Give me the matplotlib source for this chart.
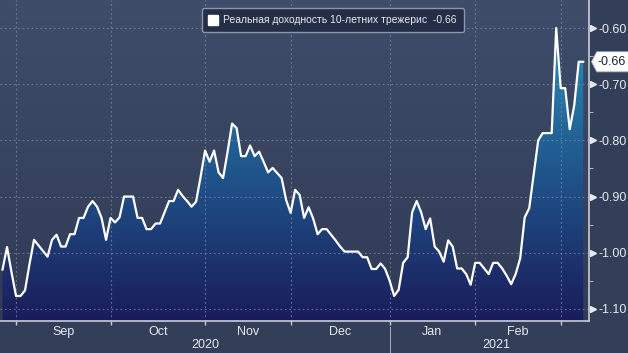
import numpy as np
import pandas as pd
import matplotlib.pyplot as plt
import matplotlib.transforms as mtransforms
from matplotlib.colors import LinearSegmentedColormap
from matplotlib.patches import Polygon
from matplotlib.lines import Line2D

plt.rcParams["font.family"] = ["Liberation Sans", "DejaVu Sans"]

# bond market trading days (US holidays removed)
holidays = ["2020-09-07", "2020-10-12", "2020-11-11", "2020-11-26", "2020-12-25",
            "2021-01-01", "2021-01-18", "2021-02-15"]
dates = pd.bdate_range("2020-08-27", "2021-03-08", freq="C", holidays=holidays)

real_yield = [
    -1.03, -0.99, -1.035, -1.077, -1.077, -1.067, -1.02, -0.977, -0.987, -0.997,
    -1.007, -0.977, -0.968, -0.989, -0.989, -0.967, -0.967, -0.938, -0.938, -0.918,
    -0.908, -0.918, -0.938, -0.977, -0.938, -0.946, -0.937, -0.90, -0.90, -0.90,
    -0.938, -0.938, -0.958, -0.958, -0.948, -0.948, -0.928, -0.908, -0.908, -0.888,
    -0.899, -0.908, -0.918, -0.909, -0.865, -0.818, -0.838, -0.818, -0.857, -0.867,
    -0.82, -0.770, -0.778, -0.828, -0.828, -0.809, -0.828, -0.82, -0.838, -0.857,
    -0.849, -0.858, -0.867, -0.906, -0.929, -0.888, -0.897, -0.938, -0.919, -0.939,
    -0.967, -0.958, -0.958, -0.968, -0.978, -0.989, -0.998, -0.998, -0.998, -0.998,
    -1.008, -1.008, -1.029, -1.029, -1.019, -1.029, -1.05, -1.077, -1.066, -1.018,
    -1.008, -0.928, -0.908, -0.928, -0.958, -0.939, -0.989, -0.998, -1.016, -0.978,
    -0.989, -1.028, -1.028, -1.038, -1.057, -1.018, -1.018, -1.028, -1.038, -1.018,
    -1.018, -1.028, -1.041, -1.056, -1.038, -1.010, -0.937, -0.921, -0.86, -0.80,
    -0.787, -0.787, -0.787, -0.60, -0.707, -0.707, -0.78, -0.738, -0.66, -0.66,
]
last_value = -0.66
series_label = "Реальная доходность 10-летних трежерис  -0.66"
y_major = [-1.10, -1.00, -0.90, -0.80, -0.70, -0.60]
y_minor = [-1.05, -0.95, -0.85, -0.75, -0.65]

x = np.arange(len(dates))
y = np.array(real_yield)
ymin, ymax = -1.121, -0.550
xmin, xmax = -0.56, 130.3
txt = "#e6e9ef"

fig = plt.figure(figsize=(6.28, 3.53), dpi=100, facecolor="#333e59")
ax = fig.add_axes([0, 0.0915, 0.938, 0.9085])

# background gradient
bg = LinearSegmentedColormap.from_list("bg", ["#303b56", "#3f4d6a"])
ax.imshow(np.linspace(0, 1, 256).reshape(-1, 1), cmap=bg, aspect="auto",
          extent=[xmin, xmax, ymin, ymax], origin="lower", zorder=0)

# area fill with vertical gradient
fillmap = LinearSegmentedColormap.from_list(
    "fill", [(0, "#1a1c5a"), (0.45, "#1f5088"), (1, "#2a93bb")])
area = ax.fill_between(x, y, ymin, color="none", lw=0, zorder=1)
grad = ax.imshow(np.linspace(0, 1, 256).reshape(-1, 1), cmap=fillmap, aspect="auto",
                 extent=[xmin, xmax, ymin, -0.58], origin="lower", zorder=1)
grad.set_clip_path(area.get_paths()[0], transform=ax.transData)
ax.set_xlim(xmin, xmax)
ax.set_ylim(ymin, ymax)

ax.plot(x, y, color="white", lw=1.6, zorder=3)

# month ticks at first trading day of each month
months = pd.Series(dates.to_period("M"))
starts = [i for i in range(1, len(months)) if months[i] != months[i - 1]]
month_names = ["Sep", "Oct", "Nov", "Dec", "Jan", "Feb"]
ax.set_xticks(starts)
ax.set_xticklabels([])
ax.tick_params(axis="x", direction="out", length=3, color="#c8cdd8", width=1)
xt = ax.get_xaxis_transform()
for k, name in enumerate(month_names):
    ax.text((starts[k] + starts[k + 1]) / 2, -0.018, name, transform=xt,
            ha="center", va="top", color=txt, fontsize=9)

year_split = starts[4]
ax.text(starts[2], -0.058, "2020", transform=xt, ha="center", va="top", color=txt, fontsize=9)
ax.text((year_split + xmax) / 2 + 1.5, -0.058, "2021", transform=xt,
        ha="center", va="top", color=txt, fontsize=9)
ax.plot([year_split, year_split], [-0.02, -0.12], transform=xt,
        color="#9aa3b5", lw=0.8, clip_on=False)

# grid
for v in y_major:
    ax.axhline(v, color="#7d88a3", lw=0.8, ls=(0, (1.5, 2.5)), alpha=0.8, zorder=2)
for s in starts:
    ax.axvline(s, color="#7d88a3", lw=0.8, ls=(0, (1.5, 2.5)), alpha=0.8, zorder=2)

# right axis
ax.yaxis.tick_right()
ax.set_yticks(y_major)
ax.set_yticklabels([f"{v:.2f}" for v in y_major])
ax.set_yticks(y_minor, minor=True)
ax.tick_params(axis="y", which="major", length=0, pad=7, labelcolor=txt, labelsize=9)
ax.tick_params(axis="y", which="minor", length=3, color="#c8cdd8", direction="out")
trans = mtransforms.blended_transform_factory(ax.transAxes, ax.transData)
ax.plot([1.006] * len(y_major), y_major, ls="none", marker=">", ms=4.5,
        color=txt, transform=trans, clip_on=False)

for side in ["top", "left"]:
    ax.spines[side].set_visible(False)
for side in ["right", "bottom"]:
    ax.spines[side].set_color("#c8cdd8")
    ax.spines[side].set_linewidth(1.2)

# last value callout
h = 0.018
callout = Polygon([(1.004, last_value), (1.013, last_value + h), (1.075, last_value + h),
                   (1.075, last_value - h), (1.013, last_value - h)], closed=True,
                  facecolor="white", edgecolor="#9aa3b5", lw=0.6, transform=trans,
                  clip_on=False, zorder=5)
ax.add_patch(callout)
ax.text(1.014, last_value, f"{last_value:.2f}", transform=trans, ha="left", va="center",
        color="#1b2235", fontsize=9, zorder=6)

# legend
handle = Line2D([], [], ls="none", marker="s", ms=7.5, mfc="white", mec="white")
leg = ax.legend([handle], [series_label], loc="upper center", bbox_to_anchor=(0.565, 0.99),
                frameon=True, fontsize=7.5, handlelength=0.8, handletextpad=0.6,
                borderpad=0.65, fancybox=True, labelcolor=txt)
leg.get_frame().set_facecolor("#252e47")
leg.get_frame().set_edgecolor("#8c96ab")
leg.get_frame().set_alpha(1)
leg.set_zorder(6)

fig.savefig("out.png", dpi=100, facecolor=fig.get_facecolor())
